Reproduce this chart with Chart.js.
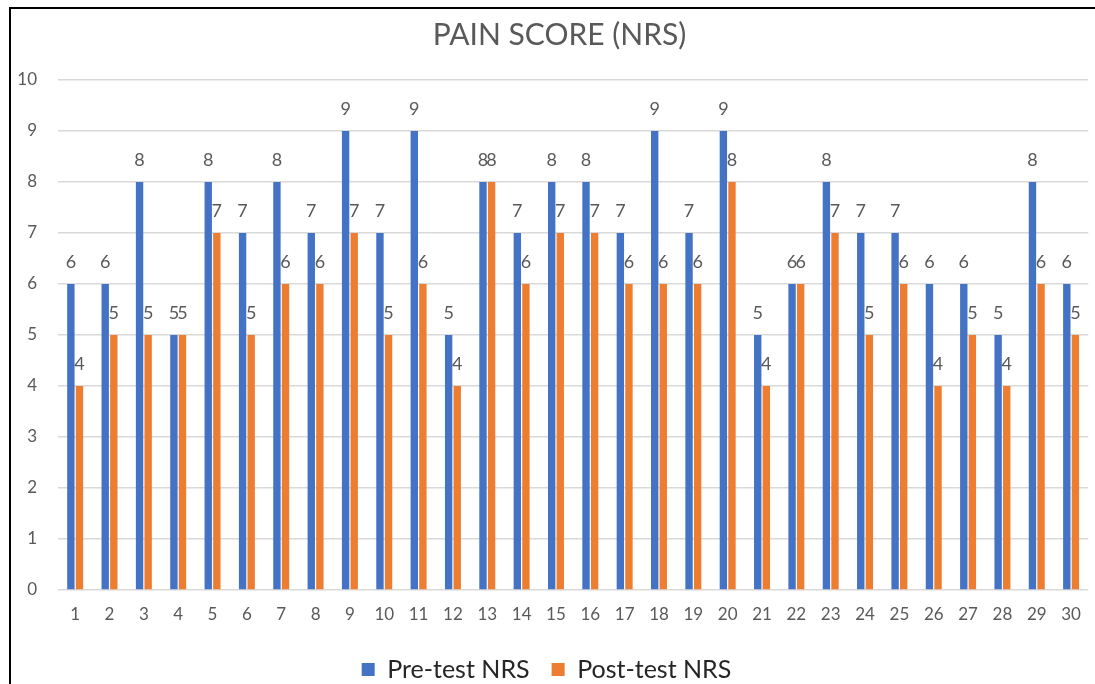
<!DOCTYPE html>
<html>
<head>
<meta charset="utf-8">
<script src="https://cdn.jsdelivr.net/npm/chart.js@4"></script>
<style>
  body { margin: 0; background: #fff; }
  #wrap { position: absolute; left: 0; top: 0; width: 1095px; height: 684px; }
  #frame { position: absolute; left: 9px; top: 7px; width: 1200px; height: 800px;
           border-left: 2px solid #000; border-top: 2px solid #000; pointer-events: none; }
</style>
</head>
<body>
<div id="wrap"><canvas id="painChart"></canvas></div>
<div id="frame"></div>
<script>
var patients = ['1','2','3','4','5','6','7','8','9','10','11','12','13','14','15',
                '16','17','18','19','20','21','22','23','24','25','26','27','28','29','30'];
var preTest  = [6,6,8,5,8,7,8,7,9,7,9,5,8,7,8,8,7,9,7,9,5,6,8,7,7,6,6,5,8,6];
var postTest = [4,5,5,5,7,5,6,6,7,5,6,4,8,6,7,7,6,6,6,8,4,6,7,5,6,4,5,4,6,5];
var yTicks   = [0,1,2,3,4,5,6,7,8,9,10];

// draws the value above each bar
var valueLabels = {
    id: 'valueLabels',
    afterLayout: function(chart) {
        // title sits a bit right of the canvas centre in the original
        if (chart.titleBlock) {
            chart.titleBlock.left += 13;
            chart.titleBlock.right += 13;
        }
    },
    afterDatasetsDraw: function(chart) {
        var ctx = chart.ctx;
        ctx.save();
        ctx.font = '18px Lato';
        ctx.fillStyle = '#595959';
        ctx.textAlign = 'center';
        ctx.textBaseline = 'alphabetic';
        chart.data.datasets.forEach(function(ds, i) {
            chart.getDatasetMeta(i).data.forEach(function(bar, j) {
                ctx.fillText(ds.data[j], bar.x, bar.y - 16);
            });
        });
        ctx.restore();
    }
};

var ctx = document.getElementById('painChart').getContext('2d');
var painChart = new Chart(ctx, {
    type: 'bar',
    data: {
        labels: patients,
        datasets: [{
            label: 'Pre-test NRS',
            data: preTest,
            backgroundColor: '#4472C4'
        }, {
            label: 'Post-test NRS',
            data: postTest,
            backgroundColor: '#ED7D31'
        }]
    },
    plugins: [valueLabels],
    options: {
        responsive: true,
        maintainAspectRatio: false,
        animation: false,
        layout: { padding: { left: 0, right: 2, top: 0, bottom: -8 } },
        categoryPercentage: 0.5,
        barPercentage: 0.86,
        scales: {
            x: {
                grid: { display: false, drawTicks: false },
                border: { display: false },
                ticks: { color: '#595959', font: { family: 'Lato', size: 17 }, padding: 14, maxRotation: 0, autoSkip: false },
                afterFit: function(scale) { scale.height = 45; }
            },
            y: {
                min: 0,
                max: 10,
                afterBuildTicks: function(scale) {
                    scale.ticks = yTicks.map(function(v) { return { value: v }; });
                },
                grid: { color: '#d9d9d9', lineWidth: 1.5, drawTicks: false },
                border: { display: false },
                ticks: { color: '#595959', font: { family: 'Lato', size: 17 }, padding: 21 },
                afterFit: function(scale) { scale.width = 58; }
            }
        },
        plugins: {
            title: {
                display: true,
                text: 'PAIN SCORE (NRS)',
                color: '#595959',
                font: { family: 'Lato', size: 30, weight: 'normal' },
                padding: { top: 17, bottom: 27 }
            },
            legend: {
                position: 'bottom',
                labels: {
                    color: '#262626',
                    font: { family: 'Lato', size: 25 },
                    boxWidth: 13,
                    boxHeight: 13,
                    padding: 22
                }
            },
            tooltip: { enabled: false }
        }
    }
});
</script>
</body>
</html>
